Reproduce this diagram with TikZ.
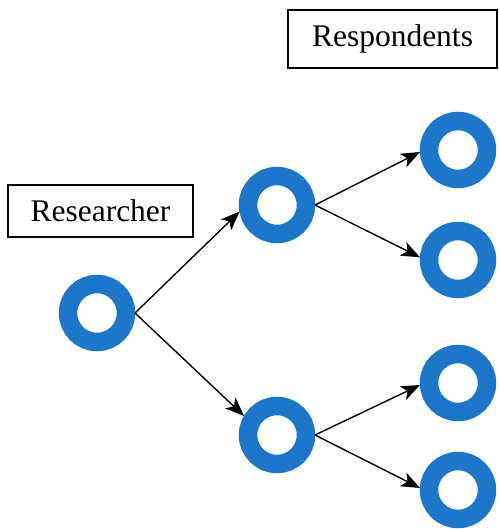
\documentclass[tikz,border=0pt]{standalone}
\usepackage{fontspec}
\setmainfont{Liberation Serif}
\usetikzlibrary{arrows.meta}
\definecolor{ringblue}{RGB}{30,118,200}
\begin{document}
\begin{tikzpicture}[x=1pt,y=-1pt,
  ring/.style={circle,draw=ringblue,line width=18.5pt,minimum size=58pt,inner sep=0pt,outer sep=9pt},
  labelbox/.style={draw=black,line width=1.4pt,font=\fontsize{31.5}{36}\selectfont,inner sep=0pt,anchor=center},
  conn/.style={line width=1.4pt,-{Stealth[length=19pt,width=15pt,inset=5pt]}}]
\useasboundingbox (0,0) rectangle (498,529);
\node[ring] (root) at (97,313) {};
\node[ring] (m1) at (277,205) {};
\node[ring] (m2) at (277,435) {};
\node[ring] (r1) at (458,150) {};
\node[ring] (r2) at (458,260) {};
\node[ring] (r3) at (458,383) {};
\node[ring] (r4) at (458,490) {};
\node[labelbox,minimum width=185pt,minimum height=52pt] (res) at (100.5,211) {Researcher};
\node[labelbox,minimum width=209pt,minimum height=58pt] (resp) at (392.5,39) {Respondents};
\draw[conn] (root.east) -- (m1.190);
\draw[conn] (root.east) -- (m2.150);
\draw[conn] (m1.east) -- (r1.183);
\draw[conn] (m1.east) -- (r2.176);
\draw[conn] (m2.east) -- (r3.183);
\draw[conn] (m2.east) -- (r4.177);
\end{tikzpicture}
\end{document}
